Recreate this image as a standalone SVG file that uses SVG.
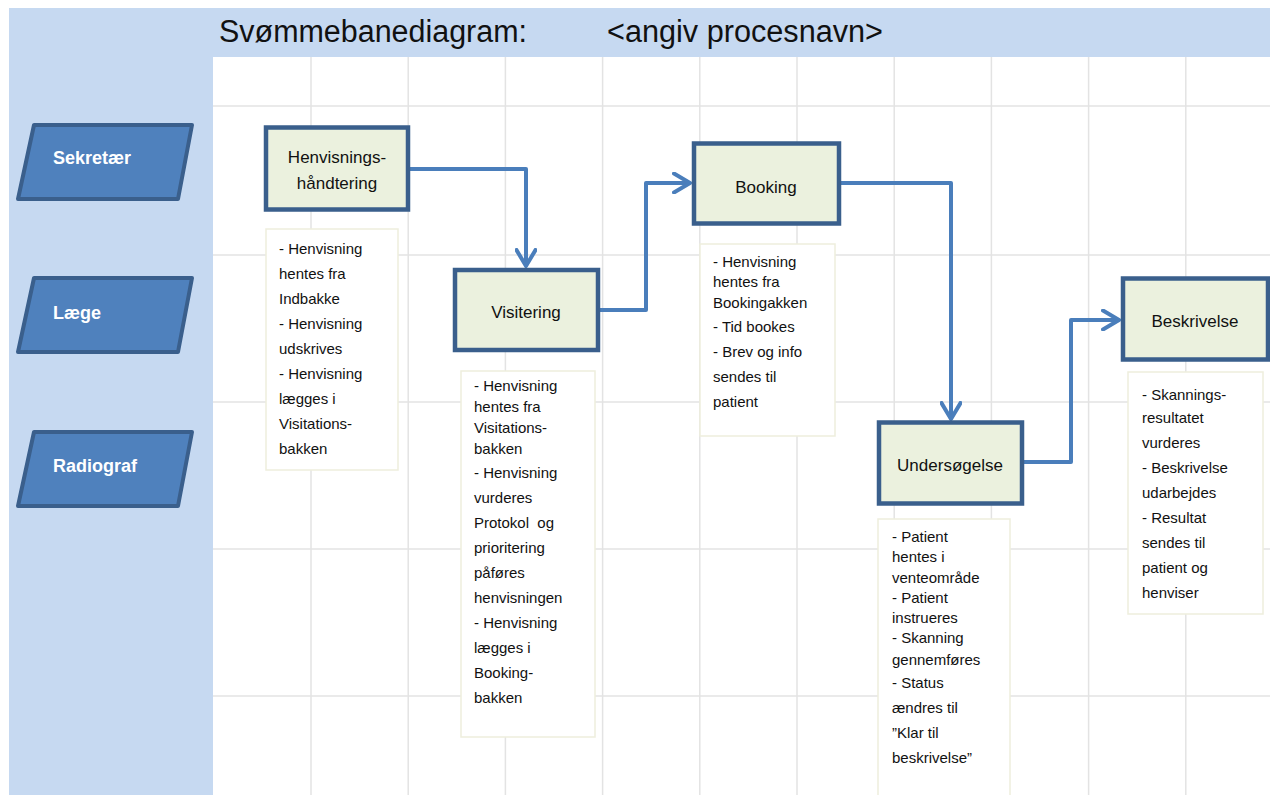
<svg xmlns="http://www.w3.org/2000/svg" width="1270" height="795" viewBox="0 0 1270 795">
<defs>
<style>
.bg{fill:#C6D9F1}
.grid line{stroke:#E3E3E3;stroke-width:1.5}
.lane polygon{fill:#4F81BD;stroke:#3A5F8C;stroke-width:4;stroke-linejoin:round}
.lane text{font-family:"Liberation Sans",Arial,sans-serif;font-weight:bold;font-size:18px;fill:#FFFFFF}
.proc rect{fill:#EBF1DE;stroke:#3A5F8C;stroke-width:4.5}
.proc text{font-family:"Liberation Sans",Arial,sans-serif;font-size:17px;fill:#111111;text-anchor:middle}
.note rect{fill:#FFFFFF;stroke:#EEEEDD;stroke-width:1.5}
.note text{font-family:"Liberation Sans",Arial,sans-serif;font-size:15px;fill:#111111}
.conn path{fill:none;stroke:#4A7EBB;stroke-width:4;stroke-linejoin:round}
.title{font-family:"Liberation Sans",Arial,sans-serif;font-size:31px;fill:#111111}
</style>
<marker id="arr" viewBox="0 0 20 22" refX="18" refY="11" markerWidth="20" markerHeight="22" markerUnits="userSpaceOnUse" orient="auto">
<path d="M2,1.5 L18,11 L2,20.5" fill="none" stroke="#4A7EBB" stroke-width="4" stroke-linecap="round" stroke-linejoin="round"/>
</marker>
</defs>
<rect width="1270" height="795" fill="#FFFFFF"/>
<rect class="bg" x="9" y="8" width="1261" height="49"/>
<rect class="bg" x="9" y="8" width="204" height="787"/>
<g class="grid">
<line x1="213" y1="106" x2="1270" y2="106"/>
<line x1="213" y1="255" x2="1270" y2="255"/>
<line x1="213" y1="402" x2="1270" y2="402"/>
<line x1="213" y1="549" x2="1270" y2="549"/>
<line x1="213" y1="696" x2="1270" y2="696"/>
<line x1="311" y1="57" x2="311" y2="795"/>
<line x1="408.2" y1="57" x2="408.2" y2="795"/>
<line x1="505.4" y1="57" x2="505.4" y2="795"/>
<line x1="602.6" y1="57" x2="602.6" y2="795"/>
<line x1="699.8" y1="57" x2="699.8" y2="795"/>
<line x1="797" y1="57" x2="797" y2="795"/>
<line x1="894.2" y1="57" x2="894.2" y2="795"/>
<line x1="991.4" y1="57" x2="991.4" y2="795"/>
<line x1="1088.6" y1="57" x2="1088.6" y2="795"/>
<line x1="1185.8" y1="57" x2="1185.8" y2="795"/>
</g>
<text class="title" x="219" y="42" textLength="308" lengthAdjust="spacingAndGlyphs">Svømmebanediagram:</text>
<text class="title" x="607" y="42" textLength="276" lengthAdjust="spacingAndGlyphs">&lt;angiv procesnavn&gt;</text>
<g id="lane-sekretaer" class="lane">
<polygon points="34,125 192,125 178,199 18,199"/>
<text x="53" y="164">Sekretær</text>
</g>
<g id="lane-laege" class="lane">
<polygon points="34,278 192,278 178,352 18,352"/>
<text x="53" y="319">Læge</text>
</g>
<g id="lane-radiograf" class="lane">
<polygon points="34,432 192,432 178,506 18,506"/>
<text x="53" y="472">Radiograf</text>
</g>
<g id="conns" class="conn">
<path d="M409,169 L526,169 L526,266" marker-end="url(#arr)"/>
<path d="M599,310 L646,310 L646,183 L690,183" marker-end="url(#arr)"/>
<path d="M840,183 L951,183 L951,419" marker-end="url(#arr)"/>
<path d="M1023,462 L1071,462 L1071,320 L1119,320" marker-end="url(#arr)"/>
</g>
<g id="node-henvisning" class="proc">
<rect x="266" y="127.5" width="142" height="82"/>
<text x="337" y="163">Henvisnings-</text>
<text x="337" y="189">håndtering</text>
</g>
<g id="node-visitering" class="proc">
<rect x="455" y="270" width="143" height="80"/>
<text x="526" y="318">Visitering</text>
</g>
<g id="node-booking" class="proc">
<rect x="694" y="143.5" width="145" height="80"/>
<text x="766" y="193">Booking</text>
</g>
<g id="node-undersoegelse" class="proc">
<rect x="879" y="422.5" width="143" height="81"/>
<text x="950" y="471">Undersøgelse</text>
</g>
<g id="node-beskrivelse" class="proc">
<rect x="1123" y="278.5" width="145" height="81"/>
<text x="1195" y="327">Beskrivelse</text>
</g>
<g id="note-henvisning" class="note">
<rect x="266" y="229" width="132" height="241"/>
<text x="279" y="254">- Henvisning</text>
<text x="279" y="279">hentes fra</text>
<text x="279" y="304">Indbakke</text>
<text x="279" y="329">- Henvisning</text>
<text x="279" y="354">udskrives</text>
<text x="279" y="379">- Henvisning</text>
<text x="279" y="404">lægges i</text>
<text x="279" y="429">Visitations-</text>
<text x="279" y="454">bakken</text>
</g>
<g id="note-visitering" class="note">
<rect x="461" y="371" width="134" height="366"/>
<text x="474" y="391">- Henvisning</text>
<text x="474" y="412">hentes fra</text>
<text x="474" y="433">Visitations-</text>
<text x="474" y="454">bakken</text>
<text x="474" y="478">- Henvisning</text>
<text x="474" y="503">vurderes</text>
<text x="474" y="528" xml:space="preserve">Protokol  og</text>
<text x="474" y="553">prioritering</text>
<text x="474" y="578">påføres</text>
<text x="474" y="603">henvisningen</text>
<text x="474" y="628">- Henvisning</text>
<text x="474" y="653">lægges i</text>
<text x="474" y="678">Booking-</text>
<text x="474" y="703">bakken</text>
</g>
<g id="note-booking" class="note">
<rect x="700" y="244" width="135" height="192"/>
<text x="713" y="267">- Henvisning</text>
<text x="713" y="287">hentes fra</text>
<text x="713" y="308">Bookingakken</text>
<text x="713" y="332">- Tid bookes</text>
<text x="713" y="357">- Brev og info</text>
<text x="713" y="382">sendes til</text>
<text x="713" y="407">patient</text>
</g>
<g id="note-undersoegelse" class="note">
<rect x="878" y="519" width="132" height="282"/>
<text x="892" y="542">- Patient</text>
<text x="892" y="562">hentes i</text>
<text x="892" y="583">venteområde</text>
<text x="892" y="603">- Patient</text>
<text x="892" y="623">instrueres</text>
<text x="892" y="643">- Skanning</text>
<text x="892" y="665">gennemføres</text>
<text x="892" y="688">- Status</text>
<text x="892" y="713">ændres til</text>
<text x="892" y="738">”Klar til</text>
<text x="892" y="763">beskrivelse”</text>
</g>
<g id="note-beskrivelse" class="note">
<rect x="1128" y="372" width="135" height="242"/>
<text x="1142" y="400">- Skannings-</text>
<text x="1142" y="423">resultatet</text>
<text x="1142" y="448">vurderes</text>
<text x="1142" y="473">- Beskrivelse</text>
<text x="1142" y="498">udarbejdes</text>
<text x="1142" y="523">- Resultat</text>
<text x="1142" y="548">sendes til</text>
<text x="1142" y="573">patient og</text>
<text x="1142" y="598">henviser</text>
</g>
</svg>
